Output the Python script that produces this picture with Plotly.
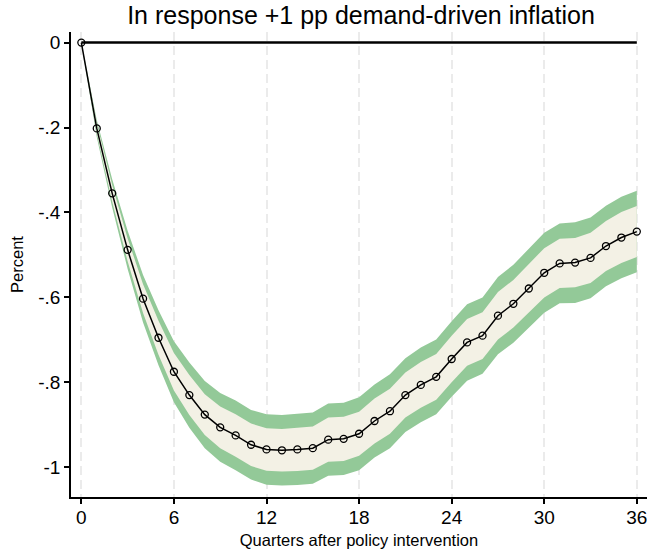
import plotly.graph_objects as go

# Impulse response of the policy variable (percent) by quarter after the intervention
quarters = list(range(37))
irf = [0.0, -0.202, -0.355, -0.488, -0.603, -0.695, -0.775, -0.830, -0.876, -0.906,
       -0.925, -0.947, -0.958, -0.960, -0.958, -0.955, -0.935, -0.933, -0.921, -0.891,
       -0.868, -0.830, -0.806, -0.787, -0.745, -0.706, -0.690, -0.643, -0.615, -0.579,
       -0.542, -0.520, -0.518, -0.507, -0.479, -0.459, -0.445]

# Half-widths of the confidence bands (outer = 90%, inner = 68%)
half_90 = [0.000, 0.020, 0.033, 0.045, 0.056, 0.065, 0.072, 0.077, 0.079, 0.081,
           0.082, 0.082, 0.083, 0.083, 0.084, 0.084, 0.085, 0.085, 0.086, 0.086,
           0.087, 0.087, 0.088, 0.088, 0.089, 0.090, 0.090, 0.091, 0.092, 0.093,
           0.094, 0.094, 0.095, 0.095, 0.095, 0.096, 0.096]
half_68 = [0.000, 0.012, 0.020, 0.027, 0.034, 0.040, 0.044, 0.047, 0.048, 0.049,
           0.050, 0.050, 0.050, 0.050, 0.051, 0.051, 0.052, 0.052, 0.052, 0.053,
           0.053, 0.053, 0.054, 0.054, 0.055, 0.055, 0.055, 0.056, 0.056, 0.057,
           0.058, 0.058, 0.058, 0.059, 0.059, 0.060, 0.060]

x_ticks = [0, 6, 12, 18, 24, 30, 36]
y_ticks = [0, -0.2, -0.4, -0.6, -0.8, -1.0]
y_ticklabels = ["0", "-.2", "-.4", "-.6", "-.8", "-1"]

GREEN = "#93c998"
CREAM = "#f3f1e5"
FONT = "Liberation Sans, Arial, sans-serif"

hi90 = [m + h for m, h in zip(irf, half_90)]
lo90 = [m - h for m, h in zip(irf, half_90)]
hi68 = [m + h for m, h in zip(irf, half_68)]
lo68 = [m - h for m, h in zip(irf, half_68)]

fig = go.Figure()

# outer band
fig.add_trace(go.Scatter(x=quarters, y=hi90, mode="lines", line=dict(width=0, color=GREEN),
                         showlegend=False, hoverinfo="skip"))
fig.add_trace(go.Scatter(x=quarters, y=lo90, mode="lines", line=dict(width=0, color=GREEN),
                         fill="tonexty", fillcolor=GREEN, showlegend=False, hoverinfo="skip"))
# inner band
fig.add_trace(go.Scatter(x=quarters, y=hi68, mode="lines", line=dict(width=0, color=CREAM),
                         showlegend=False, hoverinfo="skip"))
fig.add_trace(go.Scatter(x=quarters, y=lo68, mode="lines", line=dict(width=0, color=CREAM),
                         fill="tonexty", fillcolor=CREAM, showlegend=False, hoverinfo="skip"))

# zero reference line
fig.add_trace(go.Scatter(x=[quarters[0], quarters[-1]], y=[0, 0], mode="lines",
                         line=dict(color="black", width=2.5), showlegend=False, hoverinfo="skip"))

# point estimates
fig.add_trace(go.Scatter(x=quarters, y=irf, mode="lines+markers",
                         line=dict(color="black", width=1.5),
                         marker=dict(symbol="circle-open", size=7, color="black",
                                     line=dict(width=1.3, color="black")),
                         showlegend=False))

fig.update_layout(
    width=647, height=551,
    margin=dict(l=71, r=0, t=32, b=54, pad=0),
    paper_bgcolor="white", plot_bgcolor="white",
    font=dict(family=FONT, color="black"),
    title=dict(text="In response +1 pp demand-driven inflation",
               font=dict(size=25, color="black", family=FONT),
               x=361 / 647, xanchor="center", xref="container",
               y=1 - 15 / 551, yanchor="middle", yref="container"),
    xaxis=dict(range=[-0.67, 36.66], tickvals=x_ticks, ticks="outside", ticklen=5,
               tickwidth=1.5, tickcolor="black", showline=True, linecolor="black",
               linewidth=1.5, showgrid=True, gridcolor="#ebebeb", gridwidth=2,
               griddash="9px,5px", zeroline=False, tickfont=dict(size=19),
               ticklabeloverflow="allow", ticklabelstandoff=-3,
               title=dict(text="Quarters after policy intervention",
                          font=dict(size=16.5), standoff=8)),
    yaxis=dict(range=[-1.070, 0.025], tickvals=y_ticks, ticktext=y_ticklabels,
               ticks="outside", ticklen=5, tickwidth=1.5, tickcolor="black",
               showline=True, linecolor="black", linewidth=1.5, showgrid=False,
               zeroline=False, tickfont=dict(size=19),
               title=dict(text="Percent", font=dict(size=16.5), standoff=10)),
)

fig.write_html("out.html")
